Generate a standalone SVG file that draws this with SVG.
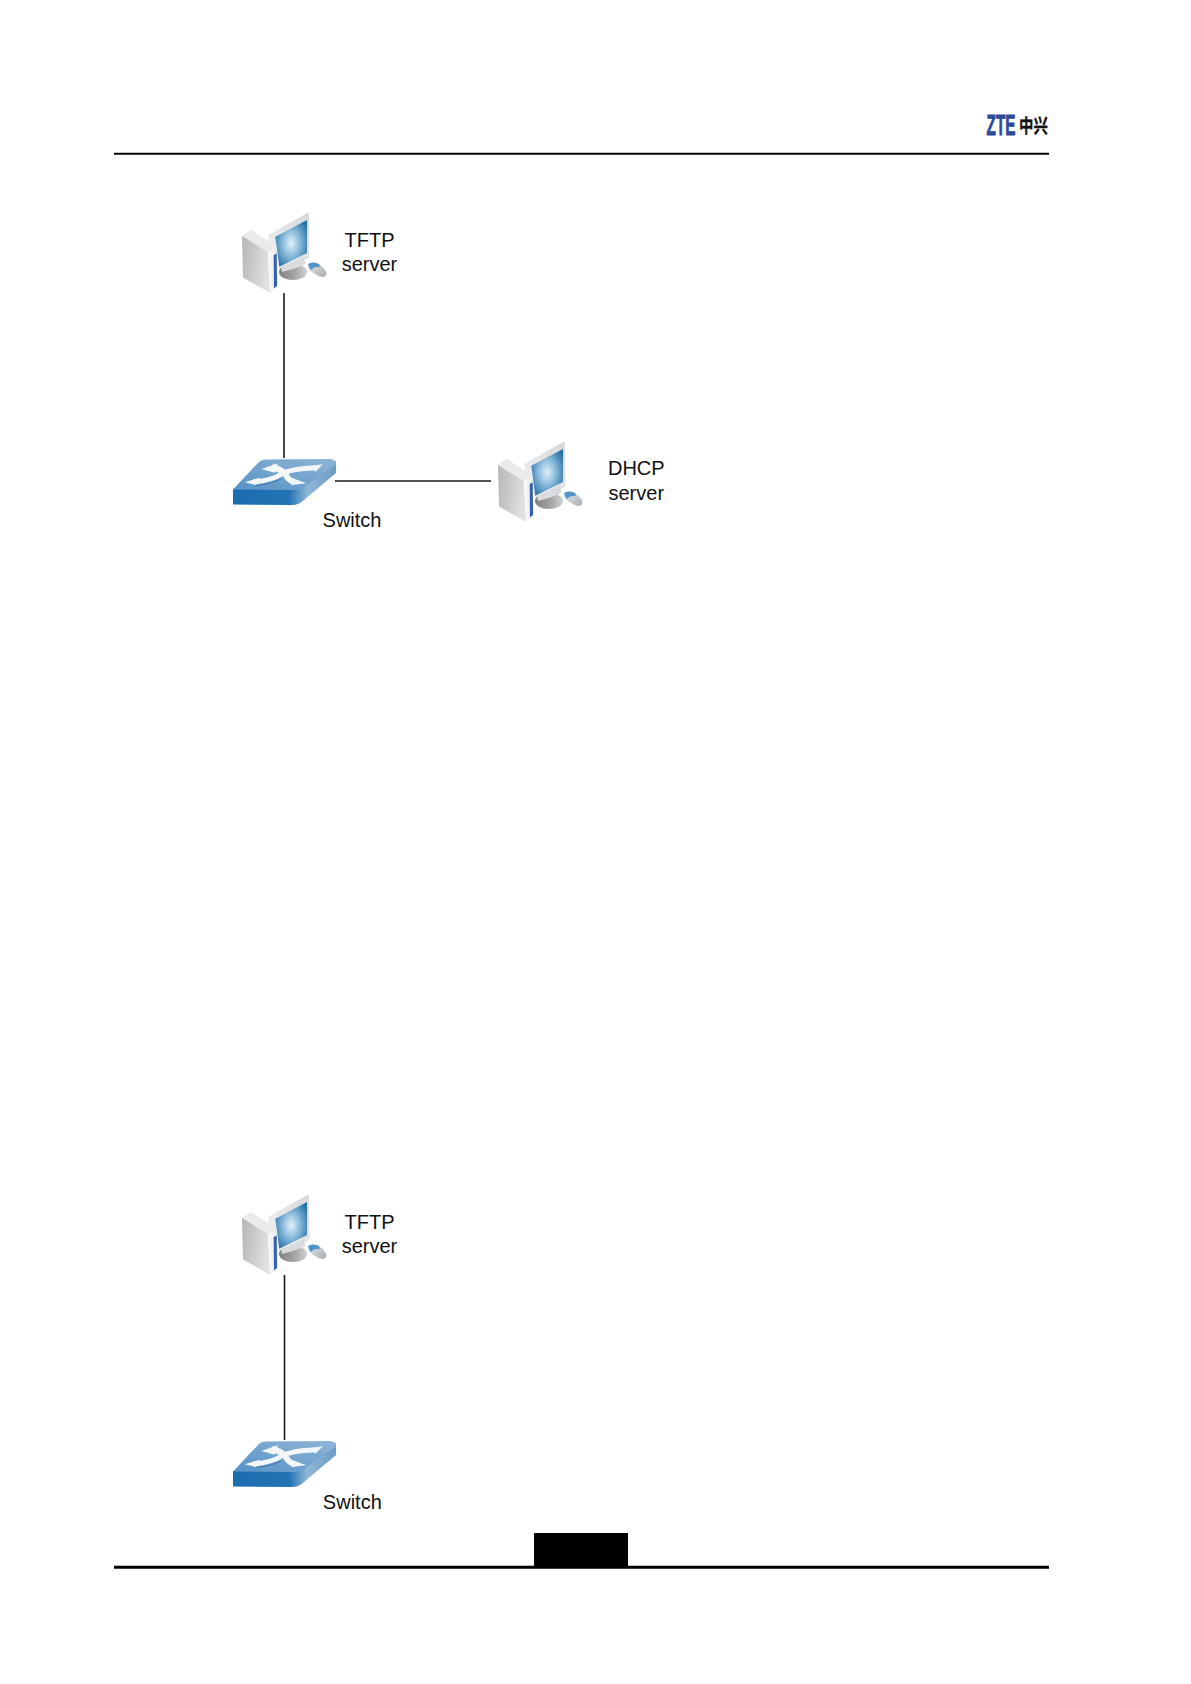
<svg xmlns="http://www.w3.org/2000/svg" width="1191" height="1684" viewBox="0 0 1191 1684">
<style>
text{font-family:"Liberation Sans",Arial,sans-serif;font-size:20px;fill:#111;text-anchor:middle}
.cable{stroke:#1a1a1a;stroke-width:1.6;fill:none}
.rule{stroke:#000;fill:none}
</style>
<defs>
<linearGradient id="tw" x1="0" x2="1" y1="0" y2="0.3"><stop offset="0" stop-color="#b4b7ba"/><stop offset="0.5" stop-color="#c8cacc"/><stop offset="1" stop-color="#dfe0e2"/></linearGradient>
<linearGradient id="ft" x1="0" x2="1" y1="0" y2="0"><stop offset="0" stop-color="#fbfbfb"/><stop offset="1" stop-color="#e2e4e6"/></linearGradient>
<linearGradient id="mon" x1="0" x2="1" y1="1" y2="0"><stop offset="0" stop-color="#f3f4f5"/><stop offset="1" stop-color="#d5d7d9"/></linearGradient>
<radialGradient id="scr" cx="0.5" cy="0.5" r="0.62"><stop offset="0" stop-color="#e3eff7"/><stop offset="0.4" stop-color="#92c0df"/><stop offset="1" stop-color="#1f6fa3"/></radialGradient>
<linearGradient id="base" x1="0" x2="1" y1="0" y2="0"><stop offset="0" stop-color="#7d7f81"/><stop offset="0.6" stop-color="#a6a8aa"/><stop offset="1" stop-color="#d0d2d4"/></linearGradient>
<linearGradient id="mouse" x1="0" x2="1" y1="0" y2="1"><stop offset="0" stop-color="#e6e8ea"/><stop offset="1" stop-color="#a9acaf"/></linearGradient>
<linearGradient id="sw" x1="0" x2="1" y1="0" y2="0"><stop offset="0" stop-color="#1a6cae"/><stop offset="0.55" stop-color="#2474b5"/><stop offset="0.72" stop-color="#8fb6d6"/><stop offset="1" stop-color="#6d9cc4"/></linearGradient>
<linearGradient id="swt" x1="0" x2="1" y1="1" y2="0"><stop offset="0" stop-color="#5692c6"/><stop offset="1" stop-color="#8fb5d6"/></linearGradient>
<g id="pc">
<path d="M48 35 L88.7 12.3 L89.5 58 L61 70 L52 62 Z" fill="url(#mon)"/>
<ellipse cx="73" cy="72" rx="14" ry="8" fill="url(#base)"/>
<path d="M61 67 L84 57 L85.5 64 Q78 68 62 72 Z" fill="#d9dbdd"/>
<path d="M55.3 36.7 L87 20 L87 53 L59.3 66.7 Z" fill="url(#scr)"/>
<path d="M22 36 L31 30 L56.7 46.7 L48 52 Z" fill="#e9eaeb"/>
<path d="M22 36 L48 52 L50 92.7 L23 77.5 Z" fill="url(#tw)"/>
<path d="M48 52 L56.7 46.7 L58 84 L50 92.7 Z" fill="url(#ft)"/>
<path d="M53.7 55 L56.7 53.5 L57 86 L54 88.5 Z" fill="#3560ad"/>
<path d="M88 64 Q93 61 99 64 Q106 69 106.5 74 Q105 78 100 76.5 Q92 73 88 68 Z" fill="url(#mouse)"/>
<path d="M88 64 Q93 61 99 64 L100 67 Q95 66 90.5 70 Z" fill="#4f93cc"/>
</g>
<g id="switch">
<path d="M13 59 L13 74.5 L72 75 Q79 75 84 70 L116 43 L116 31 L80 59 Z" fill="url(#sw)"/>
<path d="M13 59.5 L38 33 Q41 29.5 46 29.5 L110 29 Q118 30 115 35 L84 57 Q80 60 75 60 Z" fill="url(#swt)"/>
<path d="M52 37 Q63 40 66 45 Q68 50 74 52" fill="none" stroke="#f4f7fa" stroke-width="6"/>
<path d="M34 52 Q52 50 60 45 Q68 39 94 38" fill="none" stroke="#f4f7fa" stroke-width="5"/>
<path d="M36 55.5 Q52 54 61 49" fill="none" stroke="#3f78aa" stroke-width="1"/>
<path d="M41.3 39 L58 33.3 L54.7 42.7 Z M103 34.3 L91.3 35.7 L95.3 41.7 Z M24.7 52.3 L39.7 47.7 L36.3 55 Z M86.3 53.3 L73 48.3 L71.3 55 Z" fill="#f4f7fa"/>
</g>
</defs>

<g id="header">
<line class="rule" x1="114" y1="153.7" x2="1049" y2="153.7" stroke-width="2"/>
<text transform="translate(1001 135) scale(.53 1)" style="font-weight:bold;font-size:29px;fill:#2c4a9a;stroke:#2c4a9a;stroke-width:.8">ZTE</text>
<text transform="translate(1033.5 133) scale(.76 1)" style="font-family:'Liberation Sans','Noto Sans CJK SC',sans-serif;font-weight:bold;font-size:19px;fill:#111;stroke:#111;stroke-width:.3">中兴</text>
</g>

<g id="connectors">
<line class="cable" x1="284" y1="293" x2="284" y2="458"/>
<line class="cable" x1="335" y1="481" x2="491" y2="481"/>
<line class="cable" x1="284.5" y1="1275" x2="284.5" y2="1440"/>
</g>

<g id="tftp-server-1"><use href="#pc" x="220" y="200"/><text x="369.5" y="246.5">TFTP</text><text x="369.5" y="271">server</text></g>
<g id="switch-1"><use href="#switch" x="220" y="430"/><text x="352" y="527">Switch</text></g>
<g id="dhcp-server"><use href="#pc" x="476" y="429"/><text x="636.3" y="475">DHCP</text><text x="636.3" y="499.5">server</text></g>
<g id="tftp-server-2"><use href="#pc" x="220" y="1182"/><text x="369.5" y="1228.5">TFTP</text><text x="369.5" y="1253">server</text></g>
<g id="switch-2"><use href="#switch" x="220" y="1412"/><text x="352.3" y="1509">Switch</text></g>

<g id="footer">
<rect x="534" y="1533" width="94" height="34" fill="#000"/>
<line class="rule" x1="114" y1="1567.3" x2="1049" y2="1567.3" stroke-width="3"/>
</g>
</svg>
